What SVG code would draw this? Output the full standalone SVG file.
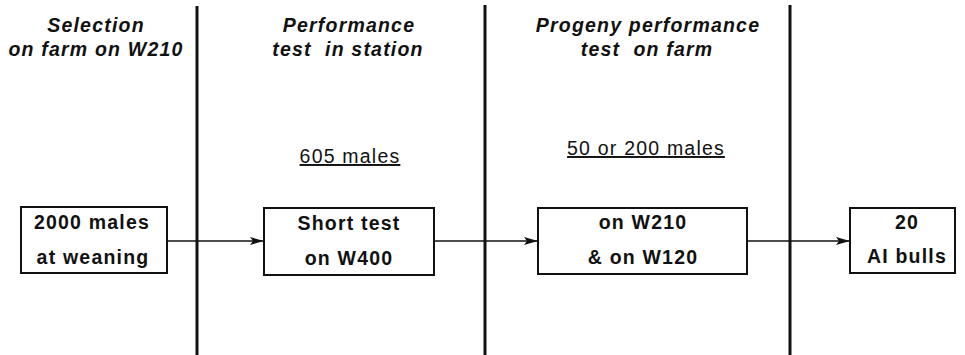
<svg xmlns="http://www.w3.org/2000/svg" width="965" height="355" viewBox="0 0 965 355">
<style>
.t{font-family:"Liberation Sans",Arial,sans-serif;font-size:19.5px;letter-spacing:1.2px;text-anchor:middle;fill:#111}
.h{font-weight:bold;font-style:italic}
.b{font-weight:bold}
.u{text-decoration:underline}
.box{fill:#fff;stroke:#111;stroke-width:2}
.div{stroke:#111;stroke-width:3}
.c{stroke:#111;stroke-width:1.6;fill:none;marker-end:url(#ah)}
</style>
<defs>
<marker id="ah" viewBox="0 0 14 8" refX="14" refY="4" markerWidth="14" markerHeight="8" markerUnits="userSpaceOnUse" orient="auto">
<path d="M0,0 L14,4 L0,8 L3,4 Z" fill="#111"/>
</marker>
</defs>
<rect width="965" height="355" fill="#fff"/>
<g id="dividers">
<line class="div" x1="197" y1="6" x2="197" y2="355"/>
<line class="div" x1="485" y1="5" x2="485" y2="355"/>
<line class="div" x1="790" y1="5" x2="790" y2="355"/>
</g>
<g id="headers">
<text class="t h" x="96" y="32">Selection</text>
<text class="t h" x="96" y="56">on farm on W210</text>
<text class="t h" x="349" y="32">Performance</text>
<text class="t h" x="348" y="56">test &#160;in station</text>
<text class="t h" x="648" y="32">Progeny performance</text>
<text class="t h" x="647" y="56">test &#160;on farm</text>
<text class="t u" x="350" y="163">605 males</text>
<text class="t u" x="646" y="155">50 or 200 males</text>
</g>
<g id="connectors">
<line class="c" x1="167" y1="241" x2="264" y2="241"/>
<line class="c" x1="434" y1="241" x2="538" y2="241"/>
<line class="c" x1="747" y1="241" x2="850" y2="241"/>
</g>
<g id="n1">
<rect class="box" x="21" y="207" width="146" height="66"/>
<text class="t b" x="92" y="229">2000 males</text>
<text class="t b" x="93" y="264">at weaning</text>
</g>
<g id="n2">
<rect class="box" x="264" y="208" width="170" height="67"/>
<text class="t b" x="349" y="230">Short test</text>
<text class="t b" x="349" y="265">on W400</text>
</g>
<g id="n3">
<rect class="box" x="538" y="208" width="209" height="66"/>
<text class="t b" x="643" y="229">on W210</text>
<text class="t b" x="643" y="264">&amp; on W120</text>
</g>
<g id="n4">
<rect class="box" x="850" y="208" width="105" height="65"/>
<text class="t b" x="907" y="229">20</text>
<text class="t b" x="907" y="263">AI bulls</text>
</g>
</svg>
